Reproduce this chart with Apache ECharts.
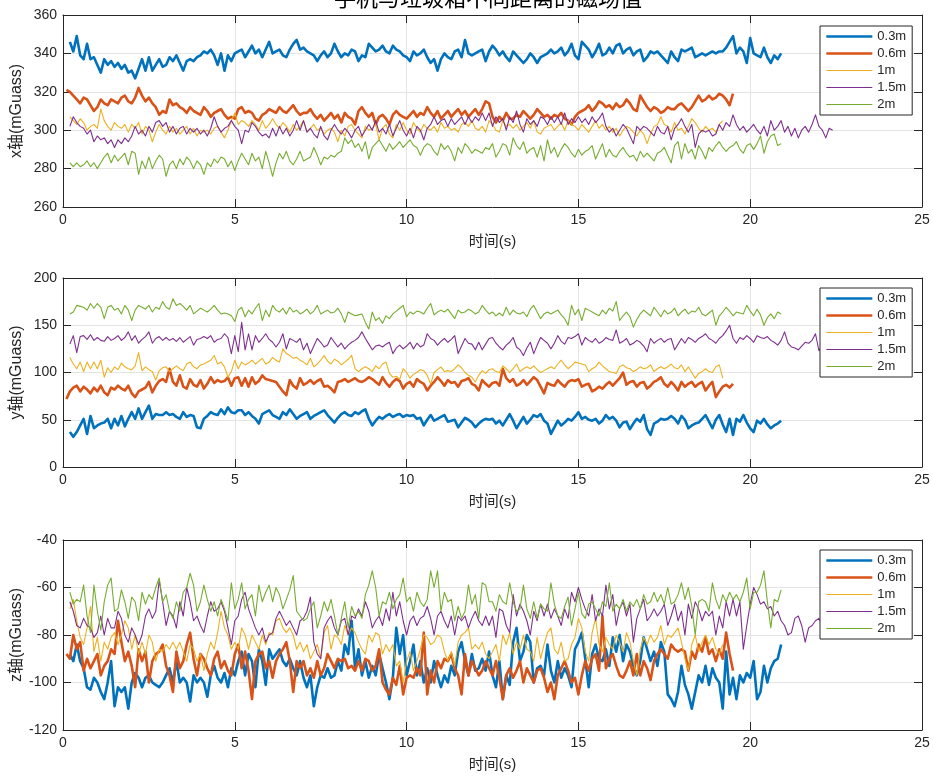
<!DOCTYPE html>
<html><head><meta charset="utf-8">
<script src="https://cdn.jsdelivr.net/npm/echarts@6/dist/echarts.min.js"></script>
<style>html,body{margin:0;padding:0;background:#fff}#c{width:933px;height:779px}</style>
</head><body><div id="c"></div>
<script>
// ---------- DATA ----------
const names = ['0.3m', '0.6m', '1m', '1.5m', '2m'];
const startTimes = [0.2, 0.1, 0.2, 0.2, 0.2];   // s
const sampleStep = 0.1;                           // s
const titleText = '手机与垃圾箱不同距离的磁场值';
const xName = '时间(s)';
const yNames = ['x轴(mGuass)', 'y轴(mGuass)', 'z轴(mGuass)'];
const timeTicks = [0, 25, 5];
const yTicks = [[260, 360, 20], [0, 200, 50], [-120, -40, 20]];

// x-axis field
const x03 = [
346,341,349,339,337,345,337,338,334,330,
337,334,336,333,335,332,334,330,331,327,
332,337,331,338,331,334,337,333,334,338,
336,339,335,331,336,337,336,338,339,341,
340,342,339,334,340,331,339,336,340,341,
342,338,341,344,340,342,338,342,346,340,
341,342,339,338,342,345,347,342,343,341,
340,339,336,339,341,338,340,345,341,338,
340,339,342,341,336,339,338,345,343,341,
342,344,341,340,344,342,341,339,338,336,
341,339,340,342,338,335,337,331,337,340,
338,337,341,342,338,347,340,339,340,341,
342,336,341,344,342,339,341,338,336,341,
339,337,335,337,340,338,335,338,339,340,
342,340,341,343,339,341,345,339,337,346,
344,342,338,341,345,339,340,343,340,344,
345,340,342,343,339,341,342,336,338,341,
340,341,339,337,335,341,338,336,342,341,
342,343,338,339,340,339,340,341,340,341,
341,343,346,349,340,343,341,335,348,340,
339,338,343,338,335,339,337,340];
const x06 = [
321,320,318,316,314,317,316,313,310,312,
316,314,313,316,315,314,317,318,315,314,
317,322,318,315,317,314,312,308,310,309,
316,313,314,312,311,309,312,310,309,308,
312,310,307,309,310,311,308,306,307,306,
311,312,309,310,309,306,305,308,309,311,
310,309,312,310,309,311,313,310,308,309,
309,311,308,306,308,305,307,309,306,308,
304,309,307,306,303,310,312,309,307,309,
303,307,308,306,303,308,310,308,307,306,
308,310,307,309,308,312,309,307,310,306,
308,310,307,309,311,308,310,307,309,311,
308,311,315,314,307,304,307,305,309,306,
306,308,307,310,308,306,308,311,309,307,
308,306,308,307,309,306,305,303,307,309,
310,311,313,310,312,315,314,312,313,311,
314,312,313,316,314,311,310,318,315,312,
310,312,311,309,310,312,311,311,313,314,
312,310,312,315,318,315,316,318,316,317,
319,318,316,313,319];
const x1 = [
307,305,303,306,304,300,302,303,301,311,
305,302,300,304,302,301,303,299,303,301,
304,298,302,300,294,299,303,300,298,302,
299,301,298,300,302,298,301,297,300,299,
300,298,301,302,299,296,300,305,309,303,
305,304,302,305,303,300,305,301,303,306,
303,301,304,302,299,303,300,302,305,299,
301,303,300,301,298,300,301,299,294,300,
297,302,303,300,298,296,302,300,301,303,
295,301,303,298,296,303,300,304,300,298,
304,301,299,303,301,300,302,299,304,301,
302,300,301,299,303,304,302,305,301,300,
302,299,305,303,300,299,305,302,303,301,
303,300,302,304,301,305,299,298,301,302,
303,300,302,304,300,305,303,302,300,303,
301,299,302,305,301,303,300,302,299,301,
297,300,302,301,299,297,300,298,293,298,
302,303,307,303,302,299,304,300,301,298,
302,306,304,301,299,302,300,301,299,303,
305];
const x15 = [
302,307,304,302,301,298,300,294,297,295,
296,293,295,291,295,293,296,294,297,302,
298,300,297,302,299,304,305,302,304,299,
302,298,301,302,298,301,299,301,298,300,
297,301,307,302,299,301,302,305,302,300,
293,300,299,304,302,299,297,298,296,301,
297,302,298,301,297,300,305,300,305,299,
301,298,296,302,297,295,300,303,300,298,
301,299,296,300,302,297,300,303,300,305,
299,301,298,303,297,301,305,300,297,301,
296,302,300,295,301,303,307,303,305,306,
302,306,303,305,307,303,307,304,307,305,
309,305,309,302,307,304,306,300,307,304,
310,303,299,306,303,305,302,307,306,303,
307,304,307,303,309,303,306,304,307,304,
306,303,307,304,306,309,302,299,301,297,
300,303,301,297,293,302,300,302,301,299,
297,302,299,298,302,295,301,303,306,302,
299,303,291,298,300,299,300,297,298,303,
300,304,302,308,303,300,302,299,301,303,
300,298,302,297,305,300,302,305,299,302,
297,301,296,300,302,299,303,308,302,300,
296,301,300];
const x2 = [
283,281,283,281,282,284,281,283,280,283,
286,288,283,287,284,286,288,282,289,288,
277,284,280,286,280,284,287,285,276,282,
284,280,285,282,286,284,280,284,282,277,
283,281,285,283,286,285,281,284,279,284,
288,285,282,288,284,286,280,289,283,276,
283,288,285,289,284,282,285,289,284,285,
286,291,287,282,286,285,287,286,288,289,
296,293,295,291,293,289,294,285,291,293,
295,292,289,293,290,292,294,291,293,295,
292,291,287,291,293,292,289,287,293,290,
292,289,284,291,288,293,291,288,290,289,
288,291,290,293,286,289,293,292,287,296,
292,290,294,288,290,291,286,292,284,295,
288,291,286,290,293,291,288,286,290,287,
289,290,292,285,289,293,286,290,287,286,
289,291,288,286,287,284,289,286,288,286,
284,288,289,291,287,283,292,294,285,293,
288,290,285,292,289,285,291,289,292,294,
291,289,291,292,294,290,288,292,293,290,
293,297,288,294,297,298,292,293];

// y-axis field
const y03 = [
37,32,37,44,51,35,54,41,44,46,
47,51,41,51,44,54,43,51,58,51,
62,51,58,65,51,56,55,55,58,55,
56,53,51,58,53,55,54,42,41,51,
54,58,56,55,61,56,63,58,57,60,
60,55,58,54,51,46,56,58,60,55,
53,51,58,55,61,56,51,54,56,58,
51,54,56,58,60,55,51,47,52,56,
58,55,54,58,56,59,61,51,44,49,
53,51,54,56,53,55,56,53,55,54,
55,51,52,44,50,55,49,51,53,55,
48,49,50,42,47,52,50,47,42,46,
49,51,50,51,46,49,44,50,56,49,
41,47,53,46,50,55,53,56,49,46,
35,42,49,44,47,51,49,53,58,51,
53,50,49,51,46,49,55,51,53,49,
42,47,48,40,46,51,48,55,40,34,
46,48,51,50,51,54,51,46,54,50,
41,44,46,47,51,55,48,41,50,55,
45,37,51,34,51,48,55,47,41,37,
49,46,51,45,41,44,46,49];
const y06 = [
72,80,84,86,80,85,82,78,84,80,
86,79,76,84,82,86,83,81,86,78,
74,80,82,84,90,79,86,91,93,90,
104,90,86,97,85,83,93,87,85,92,
83,88,95,89,92,90,91,95,86,94,
95,86,94,85,95,88,91,97,93,92,
91,90,85,80,76,92,86,83,94,87,
89,92,88,91,93,85,86,83,79,90,
91,93,90,92,94,91,90,92,95,93,
90,87,95,89,85,90,93,91,83,88,
90,85,93,90,88,81,86,90,95,91,
86,92,89,90,85,91,92,94,88,86,
81,92,88,85,89,90,86,104,94,90,
93,86,88,92,87,91,95,92,85,78,
89,87,86,92,88,85,90,92,91,93,
85,87,88,80,82,85,83,87,90,86,
90,94,100,87,90,91,85,89,90,83,
86,90,92,95,88,85,90,86,81,90,
85,88,90,85,88,90,81,86,90,74,
80,85,87,84,88];
const y1 = [
116,109,104,111,101,111,104,111,104,113,
95,105,100,106,103,110,106,104,103,107,
121,102,106,103,101,92,102,105,106,101,
104,107,104,102,109,111,106,104,108,109,
111,113,118,109,111,106,95,101,113,104,
111,108,110,113,109,112,115,109,111,116,
113,111,125,120,118,115,116,113,111,108,
115,106,109,113,118,112,109,114,112,108,
111,114,118,104,101,104,106,104,101,107,
104,109,111,99,95,96,93,104,100,94,
98,100,103,102,97,88,100,103,106,101,
102,101,104,108,105,100,97,95,90,97,
102,99,103,104,101,100,107,104,100,104,
109,101,104,106,104,107,103,100,102,104,
106,104,109,113,108,104,107,111,110,109,
108,101,104,106,111,107,104,101,100,99,
106,108,105,104,101,103,106,104,105,108,
101,104,106,104,106,109,105,104,108,101,
106,100,94,99,101,104,101,100,106,108,
94];
const y15 = [
130,139,121,138,139,135,140,134,137,134,
133,138,134,136,139,134,137,143,134,139,
131,135,138,143,131,136,138,134,137,134,
136,133,137,132,135,138,129,135,136,138,
136,139,132,135,136,141,137,120,139,122,
153,124,141,124,139,132,136,141,135,132,
127,132,141,125,136,134,132,136,124,131,
120,128,136,132,127,129,137,132,127,131,
125,129,132,134,137,143,136,130,124,128,
129,127,130,132,120,126,129,125,128,132,
125,131,127,129,141,136,134,129,133,136,
132,135,139,120,128,136,131,130,124,132,
124,130,136,137,131,127,124,129,132,137,
127,124,118,126,132,120,129,137,134,131,
125,131,139,133,130,137,136,138,141,129,
137,134,132,136,131,133,137,135,134,145,
131,133,136,129,131,134,132,128,122,136,
131,134,136,132,135,136,124,130,136,131,
137,135,132,136,138,141,136,134,131,136,
139,144,150,136,131,137,135,139,136,132,
139,137,136,138,134,132,129,134,143,131,
127,126,124,128,132,131,134,141,123,129,
133,127,130];
const y2 = [
162,164,171,170,169,166,173,168,173,169,
157,169,171,166,168,162,171,166,155,166,
171,169,167,171,164,169,167,175,169,167,
178,171,173,170,166,171,162,165,168,166,
164,167,171,166,162,163,162,160,154,166,
169,159,166,162,168,173,155,166,159,171,
166,164,168,162,169,164,166,162,164,167,
162,165,171,162,164,166,163,164,168,162,
153,164,162,160,161,162,153,146,164,155,
158,152,160,157,162,165,168,171,159,164,
162,165,164,162,168,173,161,164,166,164,
167,162,157,166,163,164,167,165,162,164,
171,166,162,164,160,163,160,169,161,166,
163,162,164,159,167,171,164,157,162,164,
162,164,166,161,157,150,171,161,167,155,
168,166,164,162,160,166,162,168,165,175,
155,160,164,159,148,156,162,166,163,160,
169,164,159,166,162,164,168,160,164,167,
162,165,164,169,162,160,163,166,150,160,
164,169,165,160,164,163,162,171,165,160,
167,161,150,158,162,157,164,162];

// z-axis field
const z03 = [
-88,-91,-84,-91,-94,-102,-103,-98,-100,-104,
-107,-100,-91,-110,-102,-104,-102,-111,-100,-96,
-98,-102,-98,-97,-100,-101,-102,-100,-97,-94,
-100,-91,-100,-98,-100,-108,-97,-100,-98,-100,
-106,-97,-93,-98,-100,-96,-102,-94,-97,-91,
-87,-97,-88,-91,-102,-86,-91,-101,-86,-90,
-88,-86,-91,-93,-90,-94,-97,-91,-98,-102,
-97,-110,-102,-97,-98,-94,-98,-97,-91,-95,
-84,-88,-74,-94,-86,-97,-91,-98,-93,-97,
-88,-94,-100,-107,-98,-77,-88,-80,-97,-91,
-84,-97,-91,-100,-94,-100,-91,-97,-102,-97,
-100,-93,-97,-87,-83,-91,-97,-88,-95,-94,
-90,-95,-87,
-97,-102,-91,-107,-97,-101,-83,-77,-91,-87,
-80,-83,-100,-94,-93,-97,-84,-95,-100,-91,
-98,-94,-97,-102,-86,-83,-79,-90,-102,-88,
-84,-90,-91,-86,-93,-81,-87,-80,-91,-84,
-87,-93,-97,-91,-81,-86,-91,-87,-93,-83,
-87,-105,-107,-110,-104,-93,-101,-105,-111,-104,
-97,-100,-93,-101,-94,-98,-100,-111,-87,-105,
-98,-107,-97,-100,-96,-98,-91,-107,-104,-93,
-100,-94,-91,-90,-84];
const z06 = [
-88,-90,-80,-86,-83,-95,-90,-94,-91,-88,
-97,-93,-91,-86,-88,-74,-83,-91,-87,-93,
-102,-86,-91,-87,-100,-91,-88,-87,-84,-93,
-97,-104,-87,-94,-91,-84,-79,-90,-97,-88,
-90,-94,-97,-90,-87,-94,-91,-95,-97,-88,
-84,-94,-87,-95,-107,-91,-88,-87,-94,-91,
-98,-91,-88,-86,-83,-91,-104,-91,-94,-91,
-97,-94,-98,-91,-97,-94,-88,-91,-94,-90,
-91,-90,-94,-93,-95,-91,-95,-90,-91,-95,
-93,-86,-100,-103,-105,-98,-101,-93,-105,-98,
-97,-98,-94,-97,-79,-105,-95,-100,-91,-94,
-90,-91,-88,-94,-97,-105,-88,-97,-91,-94,
-97,-95,-91,-94,
-97,-91,-98,-107,-97,-94,-98,-95,-91,-100,
-94,-97,-100,-95,-94,-98,-104,-100,-107,-97,
-94,-91,-95,-100,-98,-105,-97,-91,-95,-90,
-88,-95,-72,-94,-90,-88,-93,-97,-98,-95,
-91,-97,-88,-97,-91,-94,-99,-91,-88,-86,
-88,-90,-84,-86,-87,-86,-87,-95,-87,-90,
-84,-87,-81,-88,-86,-91,-86,-90,-79,-88,
-95];
const z1 = [
-69,-65,-74,-81,-84,-77,-68,-87,-81,-91,
-83,-86,-81,-79,-84,-80,-74,-77,-86,-80,
-88,-83,-88,-80,-83,-91,-86,-87,-84,-86,
-83,-86,-83,-87,-91,-84,-86,-91,-88,-95,
-88,-83,-86,-79,-70,-77,-80,-86,-83,-86,
-77,-80,-86,-80,-83,-86,-80,-84,-79,-80,
-74,-73,-77,-79,-77,-80,-86,-83,-87,-84,
-90,-87,-84,-90,-79,-76,-86,-80,-81,-84,
-76,-80,-77,-79,-83,-86,-88,-80,-83,-79,
-80,-88,-84,-87,-84,-93,-91,-100,-91,-87,
-95,-91,-86,-80,-81,-84,-83,-80,-81,-87,
-91,-87,-93,-83,-80,-79,-77,-86,-84,-86,
-83,-88,-90,
-87,-84,-91,-80,-84,-79,-88,-83,-86,-80,
-86,-87,-91,-81,-90,-84,-79,-77,-86,-88,
-83,-91,-90,-84,-81,-73,-77,-87,-91,-79,
-73,-84,-87,-81,-84,-86,-80,-83,-87,-79,
-83,-91,-97,-86,-81,-84,-80,-83,-81,-76,
-84,-80,-81,-79,-77,-83,-90,-95,-84,-80,
-87,-83,-80,-84,-81,-86,-88,-84];
const z15 = [
-66,-70,-76,-77,-73,-76,-77,-81,-79,-72,
-80,-73,-77,-77,-70,-73,-80,-83,-77,-80,
-84,-80,-72,-69,-73,-70,-57,-66,-76,-70,
-72,-77,-66,-72,-60,-66,-74,-72,-76,-79,
-72,-66,-70,-69,-66,-70,-77,-84,-74,-72,
-65,-62,-69,-73,-77,-80,-77,-83,-80,-79,
-73,-70,-73,-76,-74,-77,-80,-74,-73,-70,
-64,-83,-88,-90,-77,-74,-72,-77,-80,-74,
-73,-80,-72,-73,-69,-72,-66,-70,-77,-74,
-72,-76,-69,-74,-62,-72,-66,-74,-80,-74,
-72,-76,-73,-72,-68,-73,-80,-72,-70,-74,
-77,-72,-80,-72,-74,-72,-77,-73,-70,-74,
-76,-72,-76,
-72,-81,-69,-70,-76,-79,-63,-72,-67,-70,
-74,-80,-70,-74,-67,-72,-67,-73,-69,-72,
-76,-69,-73,-62,-66,-60,-65,-69,-72,-63,
-74,-69,-72,-59,-69,-63,-76,-69,-66,-72,
-67,-83,-73,-69,-65,-74,-72,-69,-72,-70,
-67,-76,-72,-67,-74,-70,-80,-67,-73,-66,
-69,-74,-70,-72,-70,-80,-72,-77,-66,-72,
-65,-72,-66,-86,-76,-67,-60,-63,-67,-66,
-69,-68,-72,-70,-74,-76,-80,-79,-73,-72,
-76,-83,-77,-76,-74,-73,-76,-72,-74,-71];
const z2 = [
-62,-67,-65,-66,-59,-72,-79,-59,-70,-78,
-66,-59,-56,-70,-69,-61,-66,-73,-64,-66,
-74,-62,-67,-63,-65,-60,-56,-66,-63,-70,
-73,-66,-70,-62,-60,-54,-59,-70,-66,-59,
-65,-70,-66,-72,-65,-69,-74,-58,-69,-65,
-58,-69,-65,-63,-72,-59,-66,-62,-59,-66,
-60,-63,-69,-65,-61,-55,-70,-72,-74,-73,
-69,-66,-77,-72,-66,-70,-65,-72,-80,-73,
-66,-77,-68,-72,-70,-73,-63,-59,-53,-60,
-72,-66,-67,-62,-69,-65,-63,-56,-66,-64,
-70,-62,-66,-68,-65,-53,-60,-53,-70,-62,
-66,-65,-74,-68,-73,-70,-59,-67,-63,-73,
-58,-59,-66,
-66,-70,-63,-66,-67,-58,-66,-70,-69,-59,
-69,-73,-66,-73,-67,-69,-70,-58,-67,-72,
-73,-68,-64,-76,-69,-62,-71,-73,-67,-66,
-69,-72,-66,-68,-58,-70,-67,-69,-65,-70,
-66,-68,-65,-69,-63,-67,-66,-62,-66,-63,
-67,-60,-67,-66,-63,-58,-65,-60,-68,-80,
-66,-65,-66,-70,-58,-65,-69,-63,-66,-62,
-65,-63,-66,-62,-56,-69,-62,-62,-59,-53,
-66,-77,-65,-66,-61];

const panels = [[x03, x06, x1, x15, x2], [y03, y06, y1, y15, y2], [z03, z06, z1, z15, z2]];

// ---------- STYLE / LAYOUT ----------
const FONT = "'Liberation Sans', Arial, 'Noto Sans CJK SC', sans-serif";
const INK = '#262626';
const colors = ['#0072BD', '#D95319', '#EDB120', '#7E2F8E', '#77AC30'];
const widths = [2.6, 2.6, 1.1, 1.1, 1.1];
const gridTops = [15, 278, 540];
const gridHeights = [192, 189, 190];
const legendTops = [26, 288, 550];

function toPairs(vals, t0) {
  return vals.map((v, i) => [Math.round((t0 + i * sampleStep) * 100) / 100, v]);
}

const grids = gridTops.map((t, i) => ({
  left: 63, width: 859, top: t, height: gridHeights[i], show: false,
  containLabel: false, outerBoundsMode: 'none'
}));

const xAxes = [];
const yAxes = [];
for (let g = 0; g < 3; g++) {
  xAxes.push({
    type: 'value', gridIndex: g, position: 'bottom',
    min: timeTicks[0], max: timeTicks[1], interval: timeTicks[2],
    axisLine: { show: true, onZero: false, lineStyle: { color: INK, width: 1 } },
    axisTick: { show: true, inside: true, length: 8, lineStyle: { color: INK, width: 1 } },
    axisLabel: { color: INK, fontSize: 14, fontFamily: FONT, margin: 6 },
    splitLine: { show: true, lineStyle: { color: '#e4e4e4', width: 1 } },
    name: xName, nameLocation: 'middle', nameGap: 27,
    nameTextStyle: { color: INK, fontSize: 15, fontFamily: FONT }
  });
  yAxes.push({
    type: 'value', gridIndex: g, position: 'left',
    min: yTicks[g][0], max: yTicks[g][1], interval: yTicks[g][2],
    axisLine: { show: true, onZero: false, lineStyle: { color: INK, width: 1 } },
    axisTick: { show: true, inside: true, length: 8, lineStyle: { color: INK, width: 1 } },
    axisLabel: { color: INK, fontSize: 14, fontFamily: FONT, margin: 6 },
    splitLine: { show: true, lineStyle: { color: '#e4e4e4', width: 1 } },
    name: yNames[g], nameLocation: 'middle', nameGap: 38, nameRotate: 90,
    nameMoveOverlap: false,
    nameTextStyle: { color: INK, fontSize: 16, fontFamily: FONT }
  });
}
for (let g = 0; g < 3; g++) {
  xAxes.push({
    type: 'value', gridIndex: g, position: 'top',
    min: timeTicks[0], max: timeTicks[1], interval: timeTicks[2],
    axisLine: { show: true, onZero: false, lineStyle: { color: INK, width: 1 } },
    axisTick: { show: true, inside: true, length: 8, lineStyle: { color: INK, width: 1 } },
    axisLabel: { show: false }, splitLine: { show: false }
  });
  yAxes.push({
    type: 'value', gridIndex: g, position: 'right',
    min: yTicks[g][0], max: yTicks[g][1], interval: yTicks[g][2],
    axisLine: { show: true, onZero: false, lineStyle: { color: INK, width: 1 } },
    axisTick: { show: true, inside: true, length: 8, lineStyle: { color: INK, width: 1 } },
    axisLabel: { show: false }, splitLine: { show: false }
  });
}

const series = [];
panels.forEach((arrs, g) => arrs.forEach((vals, k) => {
  series.push({
    name: names[k], type: 'line', xAxisIndex: g, yAxisIndex: g,
    data: toPairs(vals, startTimes[k]),
    symbol: 'none', showSymbol: false, silent: true,
    lineStyle: { color: colors[k], width: widths[k], join: 'round' },
    itemStyle: { color: colors[k] },
    emphasis: { disabled: true }
  });
}));

const legends = legendTops.map(t => ({
  data: names.map((n, k) => ({ name: n, lineStyle: { width: widths[k], color: colors[k] } })),
  orient: 'vertical', left: 820, top: t,
  itemWidth: 46, itemHeight: 14, itemGap: 4,
  padding: [4, 6, 4, 5],
  borderColor: INK, borderWidth: 1, backgroundColor: '#fff',
  selectedMode: false,
  itemStyle: { opacity: 0, borderWidth: 0 },
  textStyle: { color: INK, fontSize: 13, fontFamily: FONT }
}));

const chart = echarts.init(document.getElementById('c'), null, { renderer: 'canvas' });
chart.setOption({
  animation: false,
  backgroundColor: '#fff',
  grid: grids,
  xAxis: xAxes,
  yAxis: yAxes,
  legend: legends,
  series: series,
  graphic: [{
    type: 'text', x: 488, y: -13, silent: true,
    style: { text: titleText, fontSize: 22, fontFamily: "'Noto Sans CJK SC', sans-serif",
             fill: '#000', align: 'center', verticalAlign: 'top' }
  }]
});
</script>
</body></html>
